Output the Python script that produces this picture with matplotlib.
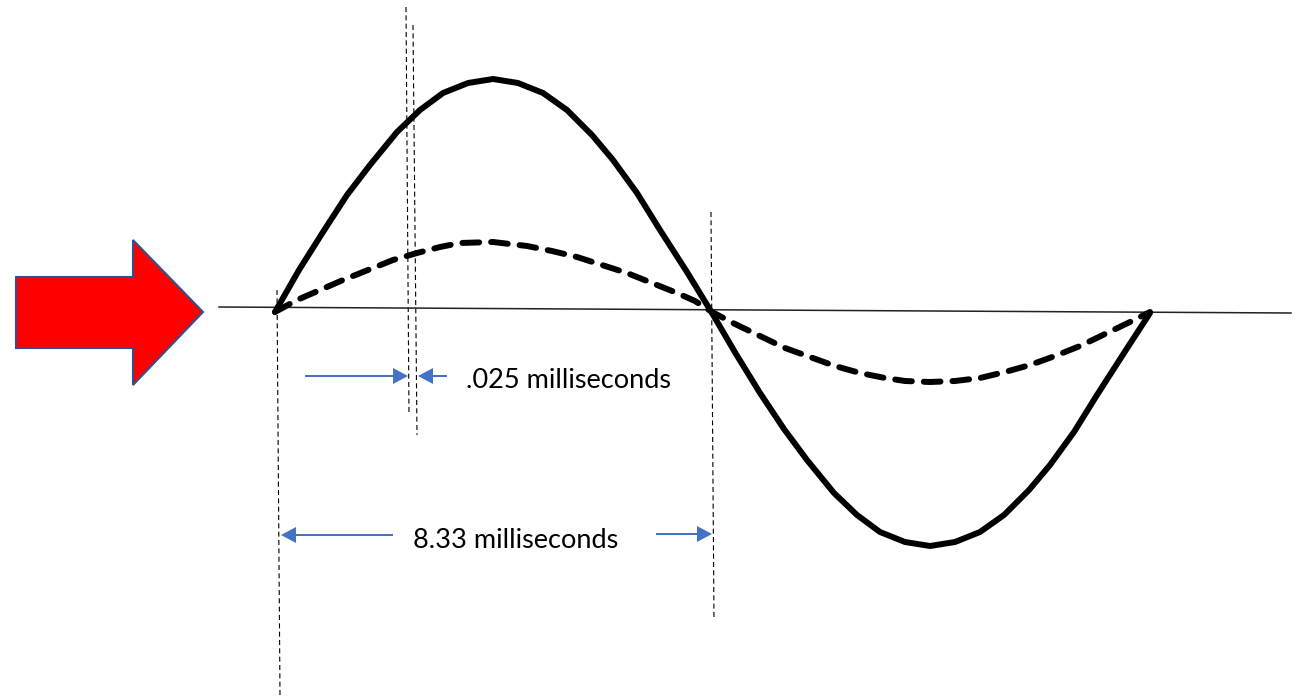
import matplotlib
matplotlib.use("Agg")
import matplotlib.pyplot as plt
from matplotlib.patches import Polygon

# ---- data (diagram units = pixels of the 1301x697 canvas) ----
solid_pos_x = [275, 299, 323, 347, 370, 397, 420, 443, 468, 493, 518, 543, 567, 592, 613, 637, 660, 687, 712]
solid_pos_y = [312, 270, 232, 195, 165, 132, 110, 93, 83, 79, 83, 93, 110, 135, 160, 193, 230, 272, 313]
solid_neg_x = [712, 736, 760, 784, 807, 834, 857, 880, 905, 930, 955, 980, 1004, 1029, 1050, 1074, 1097, 1124, 1150]
solid_neg_y = [313, 354, 393, 429, 460, 493, 515, 532, 542, 546, 542, 532, 515, 490, 465, 432, 395, 353, 313]

dash_pos_x = [275, 297, 320, 343, 368, 393, 417, 440, 460, 493, 527, 552, 577, 602, 627, 652, 677, 695, 712]
dash_pos_y = [312, 300, 290, 280, 270, 260, 253, 247, 243, 242, 246, 251, 257, 265, 273, 283, 293, 301, 312]
dash_neg_x = [712, 735, 760, 785, 810, 835, 860, 885, 905, 930, 955, 980, 1005, 1030, 1055, 1080, 1105, 1130, 1150]
dash_neg_y = [312, 324, 336, 348, 357, 366, 373, 378, 381, 382, 381, 378, 372, 365, 356, 346, 334, 322, 312]

baseline_x = [219, 1291]
baseline_y = [307, 313]

# guide lines: (x_top, y_top, x_bottom, y_bottom)
guides = [(277, 290, 280, 697), (406, 7, 409, 415), (413, 25, 417, 435), (711, 212, 714, 620)]

# blue dimension arrows: (x_start, y, x_tip)
dim_arrows = [(305, 376, 408), (447, 376, 418), (393, 535, 281), (656, 534, 712)]

labels = [".025 milliseconds", "8.33 milliseconds"]
label_pos = [(466, 381), (413, 540)]

red_arrow_x = [16, 133, 133, 203, 133, 133, 16]
red_arrow_y = [277, 277, 240, 312, 385, 348, 348]

# ---- drawing ----
fig = plt.figure(figsize=(13.01, 6.97), dpi=100)
ax = fig.add_axes([0, 0, 1, 1])
ax.set_xlim(0, 1301)
ax.set_ylim(697, 0)
ax.axis("off")

ax.plot(baseline_x, baseline_y, color="#222222", lw=1.1, zorder=2)

for (xt, yt, xb, yb) in guides:
    ax.plot([xt, xb], [yt, yb], color="black", lw=0.8, linestyle=(0, (4.5, 3.0)), zorder=1)

ax.plot(solid_pos_x + solid_neg_x[1:], solid_pos_y + solid_neg_y[1:],
        color="black", lw=4.3, solid_joinstyle="round", solid_capstyle="round", zorder=3)
ax.plot(dash_pos_x + dash_neg_x[1:], dash_pos_y + dash_neg_y[1:],
        color="black", lw=4.3, linestyle=(0, (2.8, 2.0)), dash_capstyle="round", zorder=3)

for (xs, y, xtip) in dim_arrows:
    ax.arrow(xs, y, xtip - xs, 0, width=2.0, head_width=16, head_length=15,
             length_includes_head=True, color="#4472C4", lw=0, zorder=4)

ax.add_patch(Polygon(list(zip(red_arrow_x, red_arrow_y)), closed=True,
                     facecolor="#FF0000", edgecolor="#2F528F", lw=1.5, zorder=5))

fig.canvas.draw()
renderer = fig.canvas.get_renderer()
target_w = 205.0
fs = 20
for txt, (tx, ty) in zip(labels, label_pos):
    t = ax.text(tx, ty, txt, fontsize=20, family=["Lato", "DejaVu Sans"],
                ha="left", va="center", color="black", zorder=6)
    if txt.startswith("8.33"):
        w = t.get_window_extent(renderer).width
        fs = 20 * target_w / w
for t in ax.texts:
    t.set_fontsize(fs)

fig.savefig("out.png", dpi=100)
